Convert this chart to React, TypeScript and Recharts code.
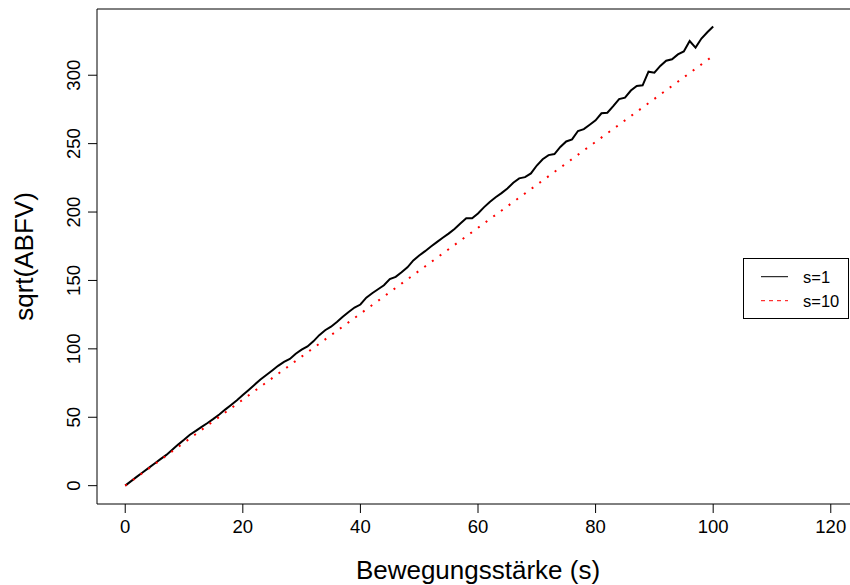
import React from 'react';
import {
  LineChart,
  Line,
  XAxis,
  YAxis,
  Legend,
  ReferenceArea,
} from 'recharts';

// movement strength s = 0..100, sqrt(ABFV) for the s=1 run
const s1Values = [
  0, 3.3, 6.6, 9.8, 13.0, 16.2, 19.4, 22.5, 26.2, 30.0,
  33.5, 37.2, 40.0, 43.0, 45.8, 48.8, 52.0, 55.6, 59.0, 62.4,
  66.2, 70.0, 73.8, 77.6, 80.9, 84.2, 87.6, 90.5, 92.6, 96.4,
  99.4, 101.8, 105.5, 110.0, 113.6, 116.2, 119.6, 123.4, 127.0, 130.2,
  132.4, 137.4, 140.6, 143.6, 146.5, 151.0, 152.6, 156.0, 159.6, 164.6,
  168.2, 171.4, 174.8, 178.0, 181.2, 184.2, 187.6, 191.6, 195.4, 195.5,
  199.0, 203.4, 207.4, 210.8, 213.8, 217.2, 221.4, 224.6, 225.5, 228.2,
  234.0, 238.6, 241.6, 242.4, 247.6, 251.6, 253.1, 259.2, 260.6, 263.8,
  267.0, 272.2, 272.6, 277.4, 282.6, 283.6, 288.8, 292.2, 292.6, 302.6,
  301.8, 306.8, 310.6, 311.6, 315.2, 317.4, 325.0, 320.2, 326.8, 331.4,
  335.6,
];

// s=10 run, smooth enough to be sampled every 10
const s10Steps = [0, 10, 20, 30, 40, 50, 60, 70, 80, 90, 100];
const s10Values = [0, 31.4, 62.9, 94.3, 125.7, 157.1, 188.5, 219.9, 251.3, 282.7, 314.2];

const xTicks = [0, 20, 40, 60, 80, 100, 120];
const yTicks = [0, 50, 100, 150, 200, 250, 300];
const xDomain: [number, number] = [-4.8, 124.8];
const yDomain: [number, number] = [-13.4, 348.4];

const s1Data = s1Values.map((v, i) => ({ s: i, v }));
const s10Data = s10Steps.map((s, i) => ({ s, v: s10Values[i] }));

const FONT = '"Liberation Sans", Arial, Helvetica, sans-serif';

const legendDash: Record<string, string | undefined> = {
  's=1': undefined,
  's=10': '4 4',
};

function XTick({ x, y, payload }: any) {
  return (
    <text x={x} y={y} dy={20} textAnchor="middle" fontSize={18.5} fontFamily={FONT} fill="#000">
      {payload.value}
    </text>
  );
}

function YTick({ x, y, payload }: any) {
  return (
    <text
      transform={`translate(${x - 8},${y}) rotate(-90)`}
      textAnchor="middle"
      fontSize={18.5}
      fontFamily={FONT}
      fill="#000"
    >
      {payload.value}
    </text>
  );
}

function LegendBox({ payload }: any) {
  return (
    <svg width={106} height={61} style={{ display: 'block' }}>
      <rect x={0.5} y={0.5} width={105} height={60} fill="#fff" stroke="#000" strokeWidth={1} />
      {(payload || []).map((entry: any, i: number) => {
        const cy = 18.7 + i * 24;
        return (
          <g key={entry.value}>
            <line
              x1={18}
              x2={45}
              y1={cy}
              y2={cy}
              stroke={entry.color}
              strokeWidth={1}
              strokeDasharray={legendDash[entry.value]}
            />
            <text x={60} y={cy + 6} fontSize={16.5} fontFamily={FONT} fill="#000">
              {entry.value}
            </text>
          </g>
        );
      })}
    </svg>
  );
}

export default function App() {
  return (
    <div
      style={{
        position: 'absolute',
        left: 0,
        top: 0,
        width: 850,
        height: 585,
        overflow: 'hidden',
        background: '#fff',
      }}
    >
      <LineChart width={870} height={585} margin={{ top: 9, right: 11, left: 0, bottom: 0 }}>
        <XAxis
          dataKey="s"
          type="number"
          domain={xDomain}
          ticks={xTicks}
          allowDataOverflow
          height={81}
          axisLine={false}
          tickLine={{ stroke: '#000' }}
          tickSize={9}
          tickMargin={0}
          tick={<XTick />}
          label={(props: any) => {
            const vb = props.viewBox || { x: 97, width: 762 };
            return (
              <text
                x={vb.x + vb.width / 2}
                y={579}
                textAnchor="middle"
                fontSize={26}
                fontFamily={FONT}
                fill="#000"
              >
                Bewegungsstärke (s)
              </text>
            );
          }}
        />
        <YAxis
          type="number"
          domain={yDomain}
          ticks={yTicks}
          allowDataOverflow
          width={97}
          axisLine={false}
          tickLine={{ stroke: '#000' }}
          tickSize={9}
          tickMargin={0}
          tick={<YTick />}
          label={() => (
            <text
              transform="translate(33,256.5) rotate(-90)"
              textAnchor="middle"
              fontSize={26}
              fontFamily={FONT}
              fill="#000"
            >
              sqrt(ABFV)
            </text>
          )}
        />
        <ReferenceArea
          x1={xDomain[0]}
          x2={xDomain[1]}
          y1={yDomain[0]}
          y2={yDomain[1]}
          fill="none"
          stroke="#000"
          strokeWidth={1}
          fillOpacity={0}
          ifOverflow="visible"
        />
        <Line
          data={s1Data}
          dataKey="v"
          name="s=1"
          type="linear"
          stroke="#000"
          strokeWidth={2}
          dot={false}
          isAnimationActive={false}
        />
        <Line
          data={s10Data}
          dataKey="v"
          name="s=10"
          type="linear"
          stroke="#ff0000"
          strokeWidth={2}
          strokeDasharray="2 7.5"
          dot={false}
          isAnimationActive={false}
        />
        <Legend
          layout="horizontal"
          verticalAlign="middle"
          content={<LegendBox />}
          wrapperStyle={{ left: 743, top: 258, width: 106, height: 61 }}
        />
      </LineChart>
    </div>
  );
}
